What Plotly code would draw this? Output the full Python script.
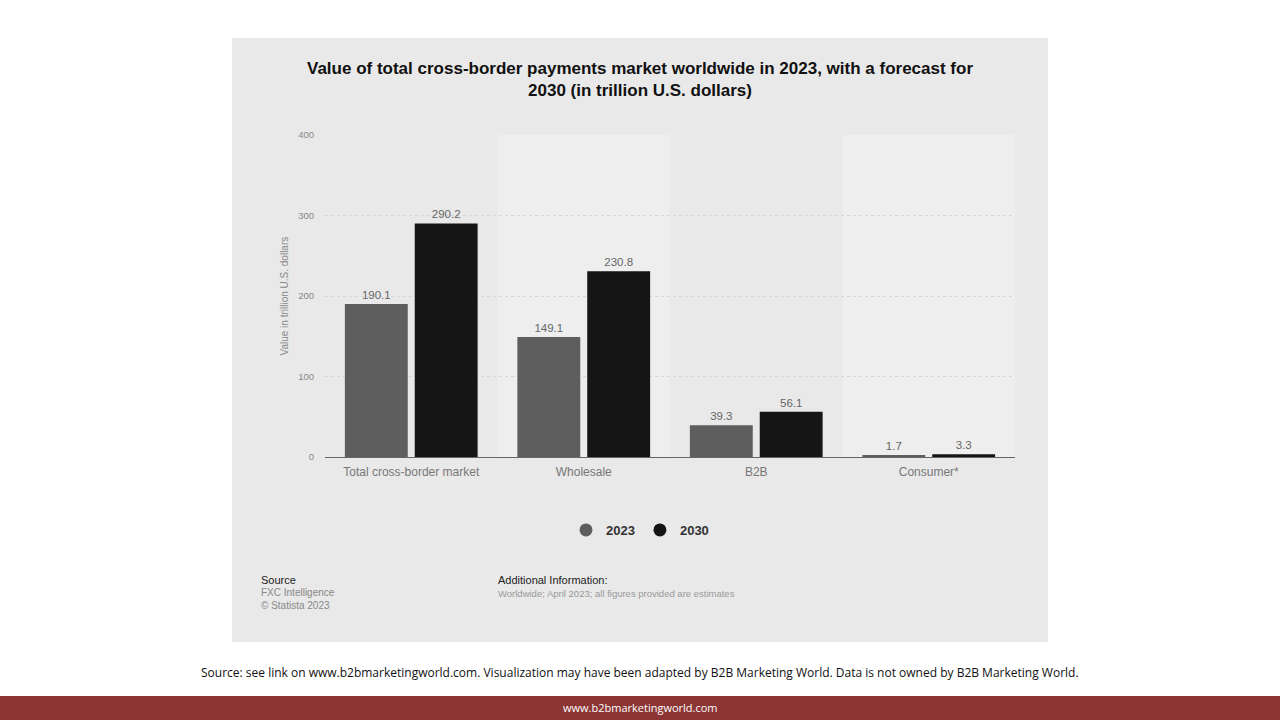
import plotly.graph_objects as go

categories = ["Total cross-border market", "Wholesale", "B2B", "Consumer*"]
v2023 = [190.1, 149.1, 39.3, 1.7]
v2030 = [290.2, 230.8, 56.1, 3.3]
series_names = ["2023", "2030"]
yticks = [0, 100, 200, 300, 400]

W, H = 1280, 720
def px(x): return x / W
def py(y): return 1 - y / H

fig = go.Figure()
for name, vals, col in [(series_names[0], v2023, "#5e5e5e"), (series_names[1], v2030, "#151515")]:
    fig.add_trace(go.Bar(name=name, x=categories, y=vals, marker_color=col, marker_line_width=0,
                         text=[f"{v:.1f}" for v in vals], textposition="outside", showlegend=False,
                         textfont=dict(size=11.5, color="#666"), cliponaxis=False))
for name, col in [(series_names[0], "#5e5e5e"), (series_names[1], "#151515")]:
    fig.add_trace(go.Scatter(name=f"<b>{name}</b>", x=[None], y=[None], mode="markers",
                             marker=dict(symbol="circle", size=13, color=col)))

shapes = [dict(type="rect", xref="paper", yref="paper", x0=px(232), x1=px(1048), y0=py(642), y1=py(38),
               fillcolor="#e9e9e9", line_width=0, layer="below"),
          dict(type="rect", xref="paper", yref="paper", x0=0, x1=1, y0=0, y1=py(696),
               fillcolor="#8b3535", line_width=0, layer="below")]
for i0 in (0.5, 2.5):
    shapes.append(dict(type="rect", xref="x", yref="paper", x0=i0, x1=i0 + 1, y0=py(457), y1=py(135),
                       fillcolor="#eeeeee", line_width=0, layer="below"))

ann = [
    dict(text="<b>Value of total cross-border payments market worldwide in 2023, with a forecast for<br>2030 (in trillion U.S. dollars)</b>",
         x=px(640), y=py(79), font=dict(size=17, color="#111")),
    dict(text="Value in trillion U.S. dollars", x=px(276), y=py(296), textangle=-90, font=dict(size=10, color="#888")),
    dict(text="Source", x=px(259), y=py(580), xanchor="left", font=dict(size=11, color="#222")),
    dict(text="FXC Intelligence<br>© Statista 2023", x=px(259), y=py(599), xanchor="left", align="left",
         font=dict(size=10, color="#888")),
    dict(text="Additional Information:", x=px(496), y=py(580), xanchor="left", font=dict(size=11, color="#222")),
    dict(text="Worldwide; April 2023; all figures provided are estimates", x=px(496), y=py(593), xanchor="left",
         font=dict(size=9.5, color="#999")),
    dict(text="Source: see link on www.b2bmarketingworld.com. Visualization may have been adapted by B2B Marketing World. Data is not owned by B2B Marketing World.",
         x=0.5, y=py(672), font=dict(size=12, color="#111", family="Open Sans")),
    dict(text="www.b2bmarketingworld.com", x=0.5, y=py(707), font=dict(size=11, color="white", family="Open Sans")),
]
for a in ann:
    a.setdefault("xref", "paper"); a.setdefault("yref", "paper"); a.setdefault("showarrow", False)
    a.setdefault("yanchor", "middle")

fig.update_layout(
    width=W, height=H, margin=dict(l=0, r=0, t=0, b=0, autoexpand=False), paper_bgcolor="white",
    plot_bgcolor="rgba(0,0,0,0)",
    font=dict(family="Liberation Sans, Arial", color="#666"),
    barmode="group", bargap=0.19, bargroupgap=0.1,
    xaxis=dict(domain=[px(325), px(1015)], showgrid=False, showline=True, linecolor="#666", linewidth=1,
               tickfont=dict(size=12, color="#777"), ticks="", ticklabelstandoff=4),
    yaxis=dict(domain=[py(457), py(135)], range=[0, 400], tickvals=yticks, showgrid=True, gridcolor="#d6d6d6",
               griddash="dot", zeroline=False, tickfont=dict(size=9.5, color="#888"), ticklabelstandoff=10),
    legend=dict(orientation="h", x=0.5, xanchor="center", y=py(530), yanchor="middle",
                font=dict(size=13, color="#333"), bgcolor="rgba(0,0,0,0)", itemwidth=30),
    shapes=shapes, annotations=ann,
)
fig.write_html("out.html", config={"displayModeBar": False},
               post_script="document.body.style.margin='0';document.body.style.overflow='hidden';")
